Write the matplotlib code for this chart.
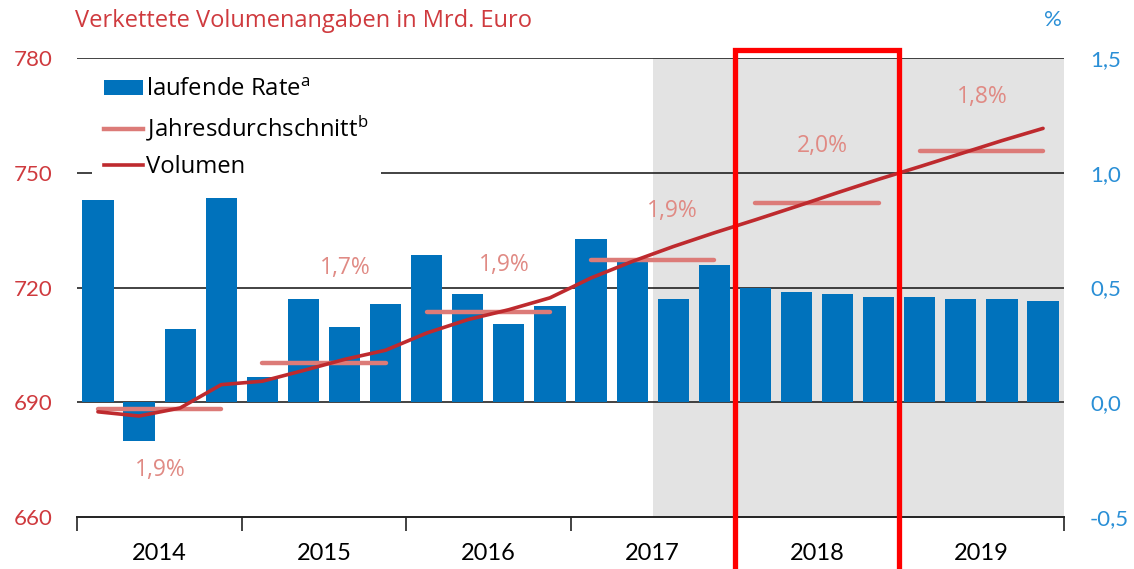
import matplotlib
matplotlib.use('Agg')
import matplotlib.pyplot as plt
import matplotlib.transforms as mtransforms
from matplotlib.patches import Patch, Rectangle
from matplotlib.lines import Line2D
import numpy as np

# ---------------- data ----------------
years = ['2014', '2015', '2016', '2017', '2018', '2019']
quarters = [f'{y} Q{q}' for y in years for q in range(1, 5)]
rate = [0.88, -0.17, 0.32, 0.89,
        0.11, 0.45, 0.33, 0.43,
        0.64, 0.47, 0.34, 0.42,
        0.71, 0.61, 0.45, 0.60,
        0.50, 0.48, 0.47, 0.46,
        0.46, 0.45, 0.45, 0.44]
volume = [687.5, 686.4, 688.5, 694.6,
          695.5, 698.3, 701.2, 703.6,
          708.1, 711.6, 714.2, 717.3,
          722.5, 726.8, 730.7, 734.3,
          737.7, 741.2, 744.8, 748.3,
          751.6, 755.0, 758.4, 761.6]
annual_avg = [688.3, 700.3, 713.7, 727.3, 742.2, 755.6]
annual_growth = ['1,9%', '1,7%', '1,9%', '1,9%', '2,0%', '1,8%']
left_ticks = [660, 690, 720, 750, 780]
right_ticks = [-0.5, 0.0, 0.5, 1.0, 1.5]
right_ticklabels = ['-0,5', '0,0', '0,5', '1,0', '1,5']

# ---------------- style ----------------
FONT = ['Lato', 'DejaVu Sans']
TFONT = ['Open Sans', 'DejaVu Sans']
plt.rcParams['font.family'] = FONT
plt.rcParams['mathtext.default'] = 'regular'
BLUE = '#0072bc'
DARKRED = '#be2a2e'
PINK = '#dc7b78'
LBL_RED = '#cf3a3e'
LBL_BLUE = '#2a8fd6'
SHADE = '#e3e3e3'

fig = plt.figure(figsize=(11.34, 5.69), dpi=100)
ax = fig.add_axes([77.4 / 1134, 1 - 517 / 569, (1063.6 - 77.4) / 1134, (517 - 58) / 569])
ax2 = ax.twinx()

x = np.arange(len(quarters))
ax.set_xlim(-0.5, len(quarters) - 0.5)
ax.set_ylim(-0.5, 1.5)
ax2.set_ylim(660, 780)

# shaded forecast region
ax.axvspan(13.5, len(quarters) - 0.5, color=SHADE, zorder=0, lw=0)

# grid lines
for v in right_ticks[1:]:
    ax.axhline(v, color='#222222', lw=1.2, zorder=1)

# bars
ax.bar(x, rate, width=0.76, color=BLUE, zorder=2)

# volume line & annual averages
ax2.plot(x, volume, color=DARKRED, lw=2.6, solid_joinstyle='round',
         solid_capstyle='round', zorder=4)
for i, a in enumerate(annual_avg):
    ax2.plot([4 * i, 4 * i + 3], [a, a], color=PINK, lw=3.2, zorder=3,
             solid_capstyle='round')

label_pos = [(1.51, 672.4), (6.01, 725.2), (9.9, 726.0), (13.97, 740.1), (17.64, 757.1), (21.53, 769.7)]
for (lx, ly), t in zip(label_pos, annual_growth):
    ax2.text(lx, ly, t, color='#e08a84', fontsize=16.5, family=TFONT,
             ha='center', va='center', zorder=5)

# axes styling
for a_ in (ax, ax2):
    for s in ('top', 'left', 'right'):
        a_.spines[s].set_visible(False)
ax2.spines['bottom'].set_visible(False)
ax.spines['bottom'].set_color('#222222')
ax.spines['bottom'].set_linewidth(1.4)

ax.yaxis.tick_right()
ax.set_yticks(right_ticks)
ax.set_yticklabels(right_ticklabels)
ax.tick_params(axis='y', length=0, pad=19, labelsize=16, labelcolor=LBL_BLUE)

ax2.yaxis.tick_left()
ax2.set_yticks(left_ticks)
ax2.set_yticklabels([str(v) for v in left_ticks])
ax2.tick_params(axis='y', length=0, pad=18, labelsize=16, labelcolor=LBL_RED)

ax.set_xticks(np.arange(-0.5, len(quarters), 4))
ax.set_xticklabels([])
ax.set_xticks(np.arange(1.5, len(quarters), 4), minor=True)
ax.set_xticklabels(years, minor=True)
ax.tick_params(axis='x', which='major', length=10, width=1.2, direction='out', color='#222222')
ax.tick_params(axis='x', which='minor', length=0, pad=19, labelsize=17)

# red highlight rectangle around 2018
trans = mtransforms.blended_transform_factory(ax.transData, ax.transAxes)
rect = Rectangle((15.5, -0.3), 4.0, 1.3185, transform=trans, fill=False,
                 edgecolor='#ff0000', lw=3.8, clip_on=False, zorder=10)
ax2.add_patch(rect)

# titles
fig.text(75 / 1134, 1 - 21 / 569, 'Verkettete Volumenangaben in Mrd. Euro',
         color=LBL_RED, fontsize=17, family=TFONT, ha='left', va='center')
fig.text(1053 / 1134, 1 - 20 / 569, '%', color=LBL_BLUE, fontsize=16, ha='center', va='center')

# legend
handles = [Patch(facecolor=BLUE, edgecolor='none'),
           Line2D([0], [0], color=PINK, lw=3.2),
           Line2D([0], [0], color=DARKRED, lw=2.6)]
labels = ['laufende Rate$^{a}$', 'Jahresdurchschnitt$^{b}$', 'Volumen']
leg = ax2.legend(handles, labels, loc='upper left',
                 bbox_to_anchor=((92 - 77.4) / 986.2, (517 - 66) / 459),
                 borderaxespad=0, borderpad=0.5,
                 prop={'family': TFONT, 'size': 17.2}, frameon=True,
                 facecolor='white', edgecolor='none', framealpha=1,
                 fancybox=False, handlelength=1.63, handleheight=0.58,
                 handletextpad=0.14, labelspacing=0.48)
leg.set_zorder(8)

fig.savefig('out.png', dpi=100)
